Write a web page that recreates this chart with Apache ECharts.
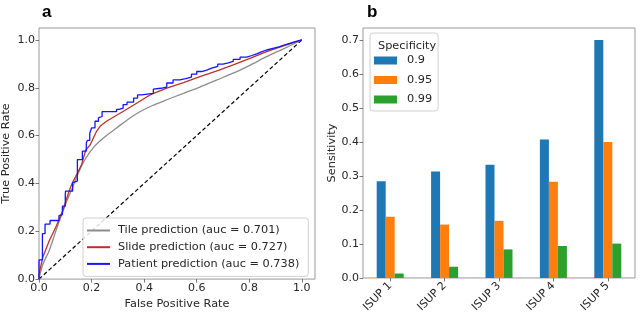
<!DOCTYPE html>
<html><head><meta charset="utf-8">
<script src="https://cdn.jsdelivr.net/npm/echarts@6/dist/echarts.min.js"></script>
<style>html,body{margin:0;padding:0;background:#fff}#c{width:640px;height:315px}</style>
</head><body><div id="c"></div>
<script>
// ---- Data ----
const rocLabels = ['Tile prediction (auc = 0.701)', 'Slide prediction (auc = 0.727)', 'Patient prediction (auc = 0.738)'];
const tileRoc = [[0,0],[0.014,0.06],[0.039,0.12],[0.07,0.22],[0.1,0.31],[0.13,0.39],[0.156,0.458],[0.175,0.50],[0.206,0.549],[0.245,0.59],[0.295,0.632],[0.346,0.674],[0.384,0.70],[0.43,0.725],[0.486,0.75],[0.55,0.777],[0.612,0.803],[0.675,0.832],[0.739,0.861],[0.8,0.893],[0.866,0.93],[0.93,0.963],[1,1]];
const slideRoc = [[0,0],[0,0.02],[0.014,0.09],[0.039,0.16],[0.063,0.215],[0.09,0.285],[0.115,0.37],[0.127,0.403],[0.145,0.44],[0.162,0.479],[0.178,0.54],[0.194,0.56],[0.219,0.618],[0.233,0.64],[0.257,0.66],[0.295,0.685],[0.318,0.70],[0.359,0.727],[0.39,0.748],[0.422,0.77],[0.486,0.799],[0.55,0.822],[0.612,0.847],[0.68,0.872],[0.739,0.896],[0.8,0.922],[0.866,0.951],[0.93,0.975],[1,1]];
const patientRoc = [[0,0],[0,0.05],[0.013,0.08],[0.013,0.19],[0.023,0.19],[0.023,0.21],[0.042,0.23],[0.06,0.245],[0.076,0.245],[0.08,0.265],[0.089,0.27],[0.1,0.305],[0.101,0.354],[0.114,0.368],[0.128,0.368],[0.133,0.403],[0.146,0.41],[0.146,0.50],[0.165,0.50],[0.171,0.535],[0.18,0.535],[0.184,0.57],[0.193,0.58],[0.2,0.61],[0.213,0.632],[0.226,0.66],[0.232,0.674],[0.24,0.68],[0.245,0.70],[0.295,0.70],[0.305,0.71],[0.32,0.715],[0.335,0.73],[0.36,0.74],[0.375,0.757],[0.39,0.77],[0.435,0.777],[0.44,0.794],[0.463,0.798],[0.486,0.803],[0.51,0.82],[0.536,0.833],[0.558,0.838],[0.58,0.845],[0.6,0.857],[0.619,0.868],[0.638,0.874],[0.657,0.882],[0.68,0.89],[0.70,0.899],[0.72,0.904],[0.739,0.91],[0.765,0.919],[0.79,0.928],[0.81,0.935],[0.828,0.942],[0.846,0.95],[0.866,0.958],[0.89,0.965],[0.916,0.972],[0.935,0.979],[0.954,0.986],[0.975,0.993],[1,1]];
const chanceLine = [[0,0],[1,1]];

const isupCategories = ['ISUP 1', 'ISUP 2', 'ISUP 3', 'ISUP 4', 'ISUP 5'];
const specLabels = ['0.9', '0.95', '0.99'];
const sens90 = [0.284, 0.313, 0.333, 0.407, 0.700];
const sens95 = [0.180, 0.157, 0.168, 0.283, 0.400];
const sens99 = [0.013, 0.033, 0.084, 0.094, 0.101];

// ---- Chart ----
const FONT = 'DejaVu Sans';
const TXT = '#262626';
const FRAME = '#999';
const chart = echarts.init(document.getElementById('c'), null, {renderer: 'canvas'});
const tickFmt = (step) => (v) => {
  const k = v / step;
  return Math.abs(k - Math.round(k)) < 1e-6 ? v.toFixed(1) : '';
};
const axisCommon = {
  axisLine: {show: false},
  axisTick: {show: true, length: 3.5, lineStyle: {color: '#555', width: 0.8}},
  splitLine: {show: false},
  axisLabel: {fontFamily: FONT, fontSize: 11, color: TXT, margin: 4},
  nameTextStyle: {fontFamily: FONT, fontSize: 11.3, color: TXT},
  nameLocation: 'middle'
};
const option = {
  animation: false,
  backgroundColor: '#fff',
  title: [
    {text: 'a', left: 37, top: -1, textStyle: {fontFamily: 'Liberation Sans', fontWeight: 'bold', fontSize: 17, color: '#000'}},
    {text: 'b', left: 362, top: -1, textStyle: {fontFamily: 'Liberation Sans', fontWeight: 'bold', fontSize: 17, color: '#000'}},
    {text: 'Specificity', left: 373, top: 36, z: 20, textStyle: {fontFamily: FONT, fontWeight: 'normal', fontSize: 11.3, color: TXT}}
  ],
  grid: [
    {left: 39, top: 28, width: 276, height: 252, show: true, borderColor: FRAME, borderWidth: 1, backgroundColor: 'transparent'},
    {left: 363, top: 28, width: 272, height: 252, show: true, borderColor: FRAME, borderWidth: 1, backgroundColor: 'transparent'}
  ],
  xAxis: [
    Object.assign({}, axisCommon, {type: 'value', gridIndex: 0, min: 0, max: 1.05, interval: 0.2,
      name: 'False Positive Rate', nameGap: 17,
      axisLabel: Object.assign({}, axisCommon.axisLabel, {formatter: tickFmt(0.2), showMaxLabel: false})}),
    Object.assign({}, axisCommon, {type: 'category', gridIndex: 1, data: isupCategories,
      axisTick: {show: true, length: 3.5, alignWithLabel: true, lineStyle: {color: '#555', width: 0.8}},
      axisLabel: Object.assign({}, axisCommon.axisLabel, {rotate: 45, margin: 6})})
  ],
  yAxis: [
    Object.assign({}, axisCommon, {type: 'value', gridIndex: 0, min: 0, max: 1.05, interval: 0.2,
      name: 'True Positive Rate', nameGap: 27,
      axisLabel: Object.assign({}, axisCommon.axisLabel, {formatter: tickFmt(0.2), showMaxLabel: false})}),
    Object.assign({}, axisCommon, {type: 'value', gridIndex: 1, min: 0, max: 0.735, interval: 0.1,
      name: 'Sensitivity', nameGap: 25,
      axisLabel: Object.assign({}, axisCommon.axisLabel, {formatter: tickFmt(0.1), showMaxLabel: false})})
  ],
  legend: [
    {
      data: rocLabels, orient: 'vertical', left: 83, top: 218,
      icon: 'rect', itemWidth: 23, itemHeight: 2, itemGap: 3.7,
      padding: [6, 9, 6, 4],
      backgroundColor: 'rgba(255,255,255,0.85)', borderColor: '#d0d0d0', borderWidth: 1, borderRadius: 3,
      textStyle: {fontFamily: FONT, fontSize: 11.3, color: TXT, padding: [0, 0, 0, 3], lineHeight: 13},
      selectedMode: false
    },
    {
      data: specLabels, orient: 'vertical', left: 370, top: 33,
      itemWidth: 23, itemHeight: 8, itemGap: 8.5,
      padding: [22, 6, 6, 4],
      backgroundColor: 'rgba(255,255,255,0.85)', borderColor: '#d0d0d0', borderWidth: 1, borderRadius: 3,
      icon: 'rect',
      textStyle: {fontFamily: FONT, fontSize: 11.3, color: TXT, padding: [0, 0, 0, 5]},
      selectedMode: false
    }
  ],
  series: [
    {type: 'line', name: 'chance', xAxisIndex: 0, yAxisIndex: 0, data: chanceLine, symbol: 'none',
      lineStyle: {color: '#000', width: 1.2, type: [4, 2.5]}, silent: true, z: 1},
    {type: 'line', name: rocLabels[0], xAxisIndex: 0, yAxisIndex: 0, data: tileRoc, symbol: 'none', smooth: 0.3,
      lineStyle: {color: '#8c8c8c', width: 1.3}, itemStyle: {color: '#8c8c8c'}, z: 2},
    {type: 'line', name: rocLabels[1], xAxisIndex: 0, yAxisIndex: 0, data: slideRoc, symbol: 'none',
      lineStyle: {color: '#b8312a', width: 1.3}, itemStyle: {color: '#b8312a'}, z: 3},
    {type: 'line', name: rocLabels[2], xAxisIndex: 0, yAxisIndex: 0, data: patientRoc, symbol: 'none', step: 'start',
      lineStyle: {color: '#1515ff', width: 1.3}, itemStyle: {color: '#1515ff'}, z: 4},
    {type: 'bar', name: specLabels[0], xAxisIndex: 1, yAxisIndex: 1, data: sens90, barWidth: 9, barGap: '0%',
      itemStyle: {color: '#1f77b4'}},
    {type: 'bar', name: specLabels[1], xAxisIndex: 1, yAxisIndex: 1, data: sens95, barWidth: 9, barGap: '0%',
      itemStyle: {color: '#ff7f0e'}},
    {type: 'bar', name: specLabels[2], xAxisIndex: 1, yAxisIndex: 1, data: sens99, barWidth: 9, barGap: '0%',
      itemStyle: {color: '#2ca02c'}}
  ]
};
chart.setOption(option);
</script>
</body></html>
